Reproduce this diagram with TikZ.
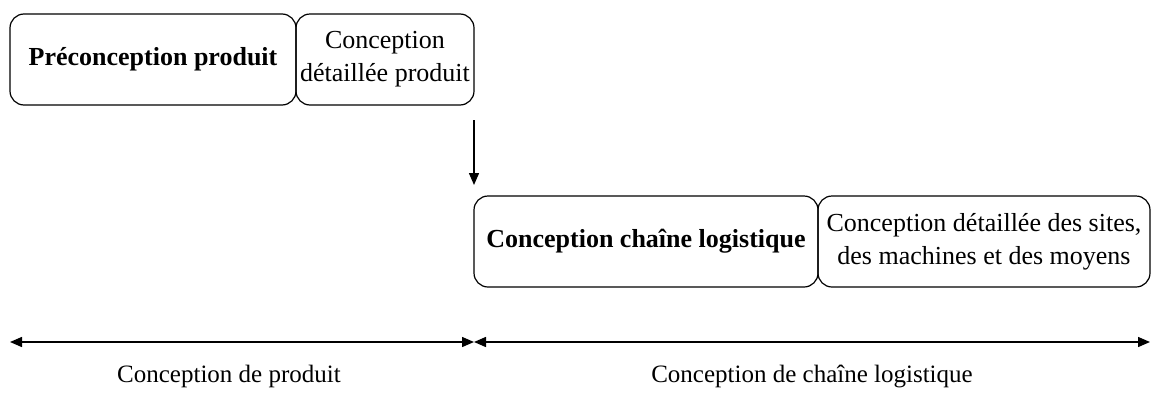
\documentclass[tikz,border=0pt]{standalone}
\usepackage{fontspec}
\setmainfont{Liberation Serif}
\usetikzlibrary{arrows.meta}
\begin{document}
\begin{tikzpicture}[x=1pt,y=-1pt,
  phase/.style={draw,line width=1.2pt,rounded corners=14pt,align=center,inner sep=0pt},
  boxfont/.style={font=\fontsize{26}{33}\selectfont},
  conn/.style={line width=1.4pt,-{Triangle[length=12pt,width=10pt]}},
  span/.style={line width=1.4pt,{Triangle[length=12pt,width=10pt]}-{Triangle[length=12pt,width=10pt]}},
  lab/.style={font=\fontsize{25}{30}\selectfont}]
\useasboundingbox (0,0) rectangle (1151,394);
\node[phase,minimum width=286pt,minimum height=91pt,font=\fontsize{26}{33}\selectfont\bfseries] (pp) at (153,59.5) {Préconception produit};
\node[phase,boxfont,minimum width=178pt,minimum height=91pt] (cdp) at (385,59.5) {Conception\\détaillée produit};
\node[phase,minimum width=344pt,minimum height=91pt,font=\fontsize{26}{33}\selectfont\bfseries] (cl) at (646,241.5) {Conception chaîne logistique};
\node[phase,boxfont,minimum width=332pt,minimum height=91pt] (cds) at (984,241.5) {Conception détaillée des sites,\\des machines et des moyens};
\coordinate (a0) at (474,120);
\coordinate (a1) at (474,185);
\draw[conn] (a0) -- (a1);
\coordinate (l0) at (10,342);
\coordinate (l1) at (474,342);
\coordinate (l2) at (1150,342);
\draw[span] (l0) -- (l1);
\draw[span] (l1) -- (l2);
\node[lab] (t1) at (229,376) {Conception de produit};
\node[lab] (t2) at (812,376) {Conception de chaîne logistique};
\end{tikzpicture}
\end{document}
